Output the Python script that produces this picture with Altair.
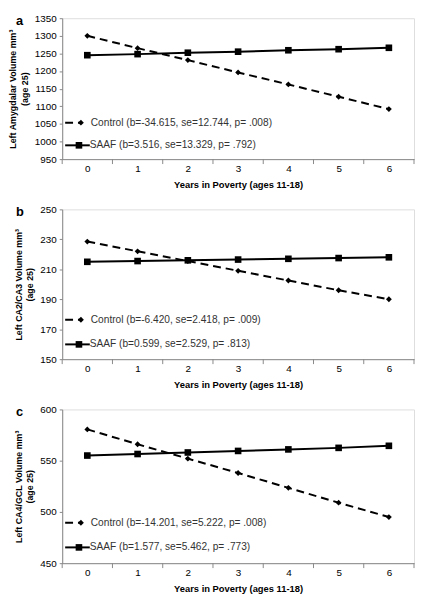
import altair as alt
import pandas as pd

years = [0, 1, 2, 3, 4, 5, 6]
tick_edges = [-0.5, 0.5, 1.5, 2.5, 3.5, 4.5, 5.5, 6.5]

a_control = [1300, 1265, 1231, 1196, 1162, 1127, 1092]
a_saaf = [1245, 1248, 1252, 1255, 1259, 1262, 1266]
b_control = [228.5, 222, 215.5, 209, 202.5, 196, 190]
b_saaf = [215, 215.5, 216, 216.5, 217, 217.5, 218]
c_control = [580.5, 566, 552, 538, 523.5, 509, 495]
c_saaf = [555, 556.5, 558, 559.5, 561, 562.5, 564.5]

panels = [
    dict(letter="a", control=a_control, saaf=a_saaf, domain=[950, 1350], step=50, h=143,
         title=["Left Amygdalar Volume mm³", "(age 25)"],
         lc="Control (b=-34.615, se=12.744, p= .008)",
         ls="SAAF (b=3.516, se=13.329, p= .792)"),
    dict(letter="b", control=b_control, saaf=b_saaf, domain=[150, 250], step=20, h=152,
         title=["Left CA2/CA3 Volume mm³", "(age 25)"],
         lc="Control (b=-6.420, se=2.418, p= .009)",
         ls="SAAF (b=0.599, se=2.529, p= .813)"),
    dict(letter="c", control=c_control, saaf=c_saaf, domain=[450, 600], step=50, h=156,
         title=["Left CA4/GCL Volume mm³", "(age 25)"],
         lc="Control (b=-14.201, se=5.222, p= .008)",
         ls="SAAF (b=1.577, se=5.462, p= .773)"),
]

W = 357
FONT = "Liberation Sans"


def panel(p):
    H = p["h"]
    d0, d1 = p["domain"]
    yvals = list(range(d0, d1 + 1, p["step"]))
    df_c = pd.DataFrame({"year": years, "value": p["control"]})
    df_s = pd.DataFrame({"year": years, "value": p["saaf"]})
    xs = alt.Scale(domain=[-0.5, 6.5], nice=False, zero=False)
    ys = alt.Scale(domain=[d0, d1], nice=False, zero=False)
    xenc = alt.X("year:Q", scale=xs,
                 axis=alt.Axis(values=years, ticks=False, grid=False,
                               title="Years in Poverty (ages 11-18)",
                               labelPadding=5, titlePadding=6, format="d",
                               titleFontSize=9.5))
    yenc = alt.Y("value:Q", scale=ys,
                 axis=alt.Axis(values=yvals, grid=False, title=p["title"], format="d",
                               tickSize=3, labelPadding=3, titlePadding=5,
                               titleFontSize=9, titleLineHeight=12))
    base_c = alt.Chart(df_c).encode(x=xenc, y=yenc)
    base_s = alt.Chart(df_s).encode(x=xenc, y=yenc)
    line_c = base_c.mark_line(color="black", strokeWidth=2, strokeDash=[8, 5])
    pts_c = base_c.mark_point(shape="diamond", filled=True, color="black", size=35, opacity=1)
    line_s = base_s.mark_line(color="black", strokeWidth=2)
    pts_s = base_s.mark_point(shape="square", filled=True, color="black", size=45, opacity=1)

    ticks = alt.Chart(pd.DataFrame({"edge": tick_edges})).mark_rule(
        color="#888", strokeWidth=1).encode(
        x=alt.X("edge:Q", scale=xs), y=alt.value(H), y2=alt.value(H + 5))

    one = pd.DataFrame({"k": [0]})
    yc, ysa = round(H * 0.74), round(H * 0.9)
    leg_line_c = alt.Chart(one).mark_rule(color="black", strokeWidth=2, strokeDash=[8, 5]).encode(
        x=alt.value(3), x2=alt.value(20), y=alt.value(yc))
    leg_pt_c = alt.Chart(one).mark_point(shape="diamond", filled=True, color="black", size=35, opacity=1).encode(
        x=alt.value(19), y=alt.value(yc))
    leg_txt_c = alt.Chart(one).mark_text(align="left", baseline="middle", font=FONT, fontSize=10.3,
                                         color="#333").encode(
        x=alt.value(29), y=alt.value(yc), text=alt.value(p["lc"]))
    leg_line_s = alt.Chart(one).mark_rule(color="black", strokeWidth=2).encode(
        x=alt.value(3), x2=alt.value(28), y=alt.value(ysa))
    leg_pt_s = alt.Chart(one).mark_point(shape="square", filled=True, color="black", size=45, opacity=1).encode(
        x=alt.value(17), y=alt.value(ysa))
    leg_txt_s = alt.Chart(one).mark_text(align="left", baseline="middle", font=FONT, fontSize=10.3,
                                         color="#333").encode(
        x=alt.value(28), y=alt.value(ysa), text=alt.value(p["ls"]))
    letter = alt.Chart(one).mark_text(align="left", baseline="middle", font=FONT, fontSize=13,
                                      fontWeight="bold", color="black").encode(
        x=alt.value(-47), y=alt.value(3), text=alt.value(p["letter"]))

    return alt.layer(ticks, line_c, pts_c, line_s, pts_s, leg_line_c, leg_pt_c, leg_txt_c,
                     leg_line_s, leg_pt_s, leg_txt_s, letter).properties(width=W, height=H)


chart = alt.vconcat(*[panel(p) for p in panels], spacing=14).properties(
    padding={"left": 0, "top": 0, "right": 0, "bottom": 0}
).configure_view(stroke=None).configure_axis(
    labelFont=FONT, labelFontSize=10, labelColor="#444",
    titleFont=FONT, titleFontWeight="bold", titleColor="black",
    domainColor="#888", tickColor="#888"
).configure(background="white")

chart.save("out.html", embed_options={"renderer": "svg", "actions": False})
